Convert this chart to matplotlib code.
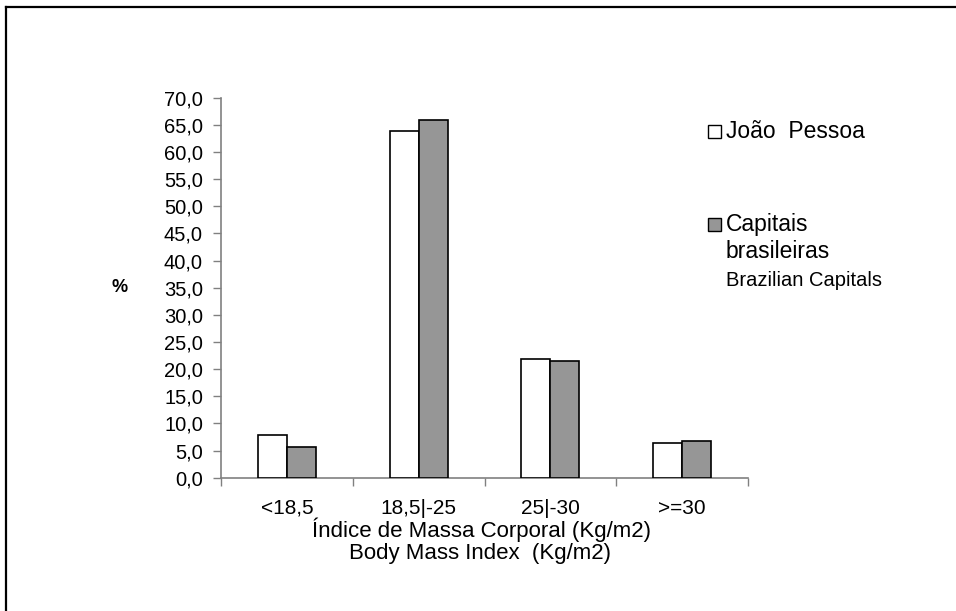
import numpy as np
import matplotlib.pyplot as plt
from matplotlib.patches import Rectangle
from matplotlib.lines import Line2D

plt.rcParams['font.family'] = ['Liberation Sans', 'DejaVu Sans']

categories = ['<18,5', '18,5|-25', '25|-30', '>=30']
joao_pessoa = [7.9, 63.8, 21.9, 6.4]
capitais = [5.7, 65.9, 21.5, 6.7]
yticks = np.arange(0, 75, 5)

W, H = 956, 611
fig = plt.figure(figsize=(W/100, H/100), dpi=100)

def fx(px):
    return px / W

def fy(py):
    return 1 - py / H

ax = fig.add_axes([fx(221), fy(477.7), fx(748) - fx(221), fy(97.7) - fy(477.7)])

x = np.arange(len(categories)) + 0.5
bw = 0.22
ax.bar(x - bw/2, joao_pessoa, bw, color='white', edgecolor='black', linewidth=1.2, zorder=3)
ax.bar(x + bw/2, capitais, bw, color='#969696', edgecolor='black', linewidth=1.2, zorder=3)

ax.set_xlim(0, len(categories))
ax.set_ylim(0, 70)
ax.set_yticks(yticks)
ax.set_yticklabels([f'{v:.1f}'.replace('.', ',') for v in yticks], fontsize=14.5)
ax.set_xticks(np.arange(len(categories) + 1))
ax.set_xticklabels([])
ax.set_xticks(x, minor=True)
ax.set_xticklabels(categories, minor=True, fontsize=15)
ax.tick_params(axis='x', which='minor', length=0, pad=15)
ax.tick_params(axis='x', which='major', length=6, color='#808080', width=1)
ax.tick_params(axis='y', length=6, color='#808080', width=1, pad=7)

for s in ['top', 'right']:
    ax.spines[s].set_visible(False)
for s in ['left', 'bottom']:
    ax.spines[s].set_color('#808080')
    ax.spines[s].set_linewidth(1.2)

fig.text(fx(482), fy(537), 'Índice de Massa Corporal (Kg/m2)', ha='center', va='baseline', fontsize=16)
fig.text(fx(480), fy(559), 'Body Mass Index  (Kg/m2)', ha='center', va='baseline', fontsize=16)
fig.text(fx(120), fy(287), '%', ha='center', va='center', fontsize=13, fontweight='bold')

# legend
fig.patches.append(Rectangle((fx(707.5), fy(138)), fx(13), fy(125) - fy(138),
                             transform=fig.transFigure, facecolor='white', edgecolor='black', linewidth=1))
fig.patches.append(Rectangle((fx(707.5), fy(231)), fx(13), fy(218) - fy(231),
                             transform=fig.transFigure, facecolor='#969696', edgecolor='black', linewidth=1))
fig.text(fx(726), fy(137.7), 'João  Pessoa', va='baseline', fontsize=16.5)
fig.text(fx(726), fy(231), 'Capitais', va='baseline', fontsize=16.5)
fig.text(fx(726), fy(258), 'brasileiras', va='baseline', fontsize=16.5)
fig.text(fx(726), fy(286), 'Brazilian Capitals', va='baseline', fontsize=14.5)

# outer frame (top and left only)
fig.add_artist(Line2D([fx(6), 1], [fy(7), fy(7)], transform=fig.transFigure, color='black', linewidth=1.6))
fig.add_artist(Line2D([fx(6), fx(6)], [fy(7), 0], transform=fig.transFigure, color='black', linewidth=1.6))

fig.savefig('out.png', dpi=100)
